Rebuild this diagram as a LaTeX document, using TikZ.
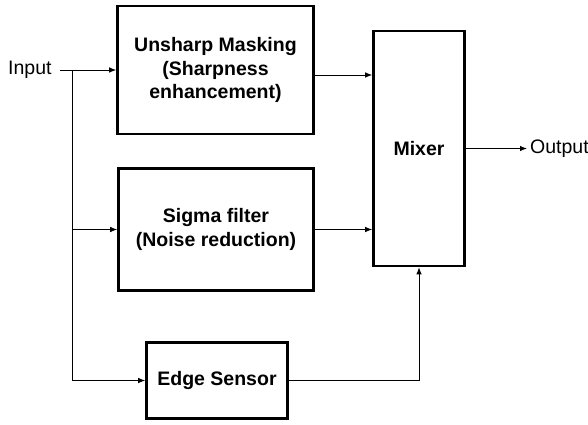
\documentclass[tikz,border=0pt]{standalone}
\usepackage{fontspec}
\setmainfont{Liberation Sans}
\usepackage{xcolor}
\usetikzlibrary{arrows.meta, positioning}
\definecolor{blockink}{HTML}{000000}
\tikzset{
  blockbox/.style={draw=blockink, line width=2.6pt, align=center, inner sep=0pt,
    font=\bfseries\fontsize{19.5}{23.5}\selectfont},
  sigline/.style={draw=blockink, line width=0.9pt, -{Latex[length=7pt,width=5.5pt]}},
  portlabel/.style={inner sep=0pt, font=\fontsize{19.5}{23.5}\selectfont}
}

\begin{document}
\begin{tikzpicture}[x=1pt, y=-1pt]
  \useasboundingbox (0,0) rectangle (588,424);
  % blocks
  \node[blockbox, minimum width=196pt, minimum height=128pt] (unsharp) at (215.5,70)
    {Unsharp Masking\\(Sharpness\\enhancement)};
  \node[blockbox, minimum width=195pt, minimum height=122pt] (sigma) at (216,229.5)
    {Sigma filter\\(Noise reduction)};
  \node[blockbox, minimum width=141pt, minimum height=76pt] (edge) at (217,380.5)
    {Edge Sensor};
  \node[blockbox, minimum width=91pt, minimum height=235pt] (mixer) at (419,148.5)
    {Mixer};
  % ports
  \node[portlabel, anchor=west] (input) at (8,70) {Input};
  \node[portlabel, anchor=west] (output) at (530,148.5) {Output};
  \coordinate (tap) at (72,70);
  % signal lines
  \draw[sigline] ([xshift=8pt]input.east) -- (unsharp.west);
  \draw[sigline] (tap) |- (sigma.west);
  \draw[sigline] (tap) |- (edge.west);
  \draw[sigline] (unsharp.east |- 0,75) -- (mixer.west |- 0,75);
  \draw[sigline] (sigma.east) -- (mixer.west |- sigma.east);
  \draw[sigline] (edge.east) -| (mixer.south);
  \draw[sigline, shorten >=3pt] (mixer.east) -- (output.west);
\end{tikzpicture}
\end{document}
